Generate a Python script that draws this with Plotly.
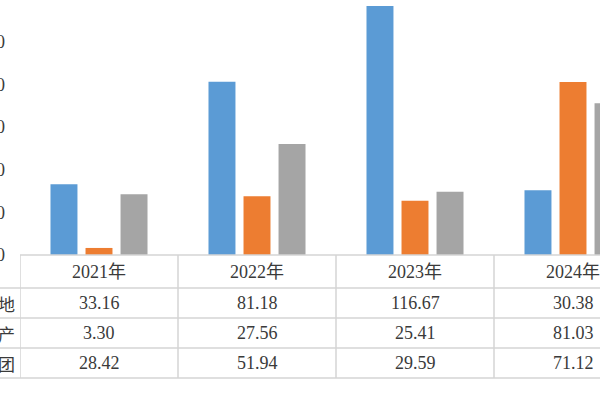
import plotly.graph_objects as go

categories = ["2021年", "2022年", "2023年", "2024年"]
row_labels = ["地", "产", "团"]
series_a = [33.16, 81.18, 116.67, 30.38]
series_b = [3.30, 27.56, 25.41, 81.03]
series_c = [28.42, 51.94, 29.59, 71.12]
y_ticks = [0, 20, 40, 60, 80, 100, 120]

colors = ["#5B9BD5", "#ED7D31", "#A5A5A5"]
series = [series_a, series_b, series_c]

W, H = 600, 400
L, T, B = 20, 0, 145
plot_h = H - T - B  # 255

def py(p):
    return (T + plot_h - p) / plot_h

def px(p):
    return (p - L) / (W - L)

fig = go.Figure()
xs = list(range(len(categories)))
for name, vals, col in zip(row_labels, series, colors):
    fig.add_trace(go.Bar(x=xs, y=vals, name=name, marker=dict(color=col, line=dict(width=0))))

serif = "Liberation Serif, Noto Sans CJK SC, serif"
txt_col = "#3A3A3A"
line_col = "#D4D4D4"

shapes = []
for p in [288, 318, 348, 378]:
    shapes.append(dict(type="line", xref="paper", yref="paper", x0=px(0), x1=1.05,
                       y0=py(p), y1=py(p), line=dict(color=line_col, width=1.5)))
shapes.append(dict(type="line", xref="x", yref="paper", x0=-0.5, x1=3.6,
                   y0=0, y1=0, line=dict(color=line_col, width=1.5)))
for i in range(len(categories)):
    shapes.append(dict(type="line", xref="x", yref="paper", x0=i - 0.5, x1=i - 0.5,
                       y0=py(255), y1=py(378), line=dict(color=line_col, width=1.5)))

annotations = []
row_centers = [303, 333, 363]
for i, c in enumerate(categories):
    annotations.append(dict(x=i, y=py(271.5), xref="x", yref="paper", text=c, showarrow=False,
                            font=dict(family=serif, size=18, color=txt_col), xanchor="center", yanchor="middle"))
    for r, vals in enumerate(series):
        annotations.append(dict(x=i, y=py(row_centers[r]), xref="x", yref="paper", text=f"{vals[i]:.2f}",
                                showarrow=False, font=dict(family=serif, size=18, color=txt_col),
                                xanchor="center", yanchor="middle"))
for r, lab in enumerate(row_labels):
    annotations.append(dict(x=px(17), y=py(row_centers[r]), xref="paper", yref="paper", text=lab,
                            showarrow=False, font=dict(family="Noto Sans CJK SC", size=17, color=txt_col),
                            xanchor="right", yanchor="middle"))

fig.update_layout(
    width=W, height=H,
    margin=dict(l=L, r=0, t=T, b=B, pad=0, autoexpand=False),
    paper_bgcolor="white", plot_bgcolor="white",
    barmode="group", bargap=0.335, bargroupgap=0.23,
    showlegend=False,
    xaxis=dict(range=[-0.5, -0.5 + (W - L) / 158.0], showticklabels=False, showgrid=False,
               zeroline=False, showline=False, ticks="", automargin=False),
    yaxis=dict(range=[0, 255 / 2.135], tickvals=y_ticks, ticktext=[str(v) for v in y_ticks],
               showgrid=False, zeroline=False, showline=False, ticks="", automargin=False,
               tickfont=dict(family=serif, size=18, color=txt_col), ticklabelstandoff=14),
    shapes=shapes, annotations=annotations,
)

fig.write_html("out.html", config={"displayModeBar": False},
               post_script="document.body.style.margin='0';")
